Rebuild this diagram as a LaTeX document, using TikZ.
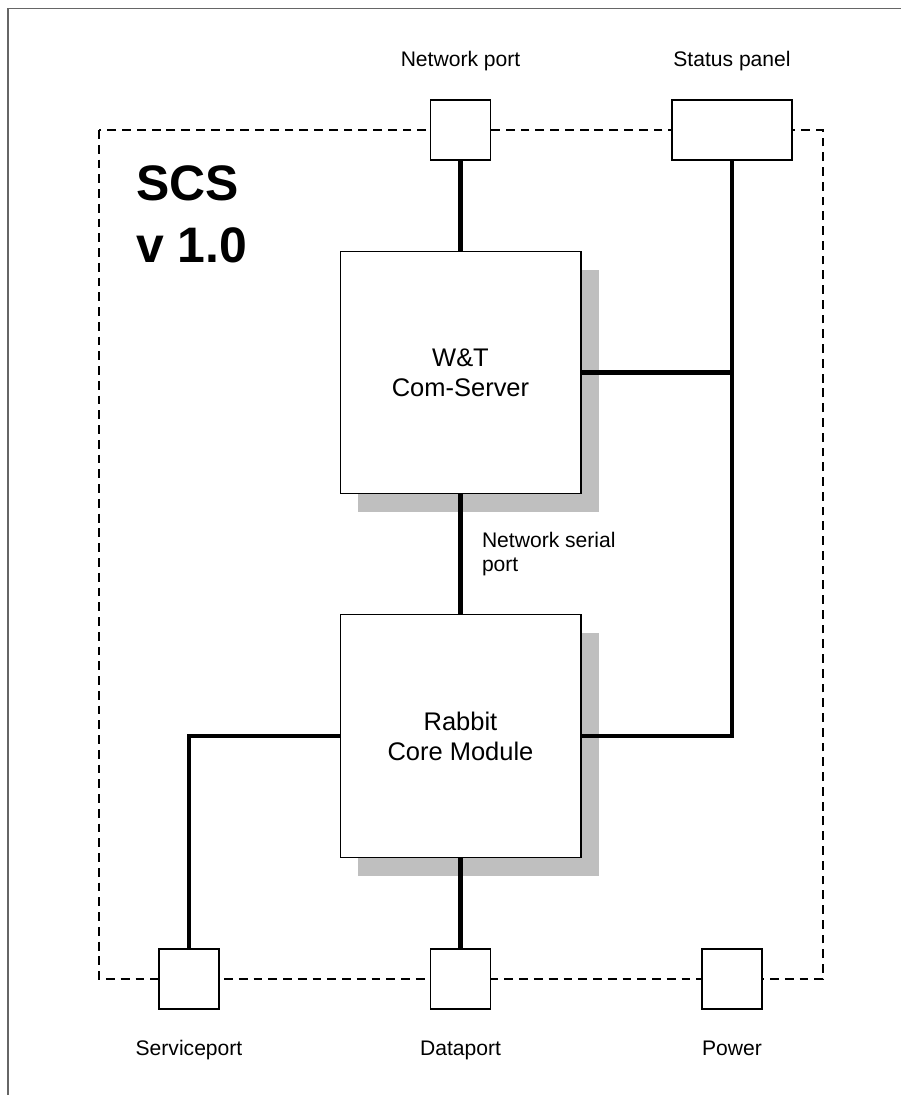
\documentclass[tikz,border=0pt]{standalone}
\usepackage{fontspec}
\setmainfont{Liberation Sans}
\usetikzlibrary{positioning,shadows}

\begin{document}
\begin{tikzpicture}[
  x=0.02cm, y=-0.02cm,
  portbox/.style={draw,fill=white,line width=0.6pt,inner sep=0pt,
    minimum width=1.2cm,minimum height=1.2cm},
  modbox/.style={draw,fill=white,line width=0.6pt,align=center,
    font=\fontsize{14.5}{17}\selectfont,minimum width=4.82cm,minimum height=4.85cm,
    drop shadow={shadow xshift=0.36cm,shadow yshift=-0.37cm,fill=black!25,opacity=1}},
  portlabel/.style={font=\fontsize{12}{13.6}\selectfont,anchor=base},
  titletext/.style={font=\fontsize{28.4}{34}\selectfont\bfseries,anchor=base west,inner sep=0pt},
  wire/.style={line width=2.3pt},
  housing/.style={line width=1.1pt,dash pattern=on 5pt off 3.4pt}
]
  \useasboundingbox (0,0) rectangle (901,1095);
  % page frame
  \draw[black!60,line width=0.8pt] (8,1095) -- (8,8.5) -- (901,8.5);
  % housing
  \draw[housing] (99,130) rectangle (823,979);
  \node[titletext] (scs) at (136,200) {SCS};
  \node[titletext] (ver) at (136,262) {v 1.0};
  % ports
  \node[portbox] (netport) at (460.5,130) {};
  \node[portbox,minimum width=2.4cm] (status) at (732,130) {};
  \node[portbox] (service) at (189,979) {};
  \node[portbox] (data) at (460.5,979) {};
  \node[portbox] (power) at (732,979) {};
  \node[portlabel] (netportlbl) at (460.5,67) {Network port};
  \node[portlabel] (statuslbl) at (732,67) {Status panel};
  \node[portlabel] (servicelbl) at (189,1055) {Serviceport};
  \node[portlabel] (datalbl) at (460.5,1055) {Dataport};
  \node[portlabel] (powerlbl) at (732,1055) {Power};
  % modules
  \node[modbox] (wt) at (460.5,372.5) {W\&T\\Com-Server};
  \node[modbox] (rabbit) at (460.5,736) {Rabbit\\Core Module};
  % wiring
  \draw[wire] (netport) -- (wt);
  \draw[wire] (wt) -- node[midway,anchor=west,xshift=0.39cm,inner sep=0pt,align=left,
    font=\fontsize{12}{13.6}\selectfont] (seriallbl) {Network serial\\port} (rabbit);
  \draw[wire] (rabbit) -- (data);
  \draw[wire] (wt.east) -- (wt.east -| status.south);
  \draw[wire] (rabbit.east) -| (status.south);
  \draw[wire] (rabbit.west) -| (service.north);
\end{tikzpicture}
\end{document}
